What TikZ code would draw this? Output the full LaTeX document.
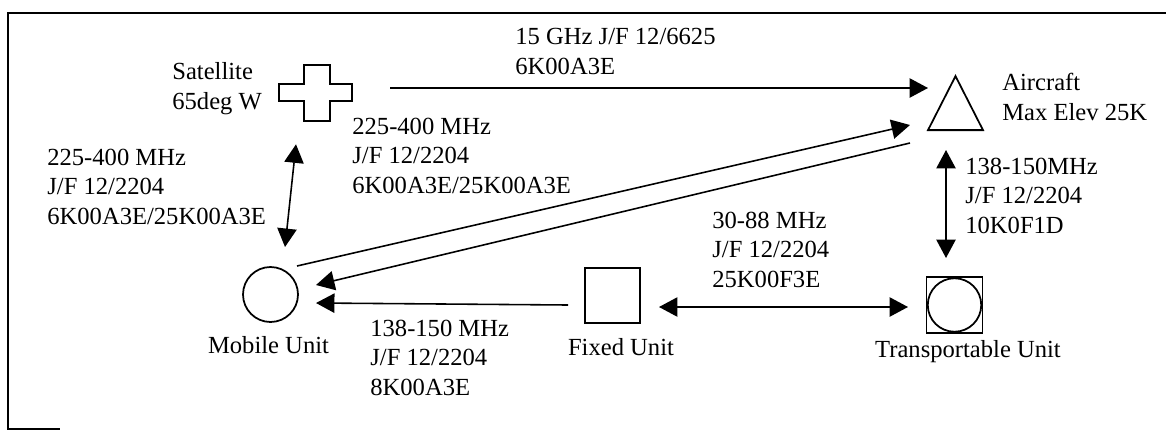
\documentclass[tikz,border=0pt]{standalone}
\usepackage{fontspec}
\setmainfont{Liberation Serif}
\usetikzlibrary{positioning,arrows.meta,calc,shapes.geometric}

\begin{document}
\begin{tikzpicture}[
    x=0.02cm, y=-0.02cm,
    font=\fontsize{14}{16.6}\selectfont,
    unit/.style={draw, line width=1pt, inner sep=0pt, minimum size=1.1cm},
    link/.style={line width=0.9pt},
    arr/.style={link, -{Triangle[length=10.5pt,width=11pt]}},
    both/.style={link, {Triangle[length=10.5pt,width=11pt]}-{Triangle[length=10.5pt,width=11pt]}},
    lbl/.style={anchor=base west, inner sep=0pt, align=left},
    unitname/.style={anchor=base, inner sep=0pt},
  ]
  \useasboundingbox (0,0) rectangle (1166,430);
  % page frame (scanned, open on the right)
  \draw[line width=1pt] (1166,13) -- (8,13) -- (8,429) -- (60,429);

  % stations
  \node[minimum width=1.46cm, minimum height=1.12cm, inner sep=0pt] (sat) at (315.5,93) {};
  \draw[line width=1pt] (279,84) -- (304,84) -- (304,65) -- (330,65) -- (330,84) -- (352,84)
    -- (352,101) -- (330,101) -- (330,121) -- (304,121) -- (304,101) -- (279,101) -- cycle;
  \node[unit, isosceles triangle, shape border rotate=90, isosceles triangle stretches,
        minimum width=1.1cm, minimum height=1.08cm, anchor=south] (air) at (955.5,131) {};
  \node[unit, circle] (mob) at (270.5,294.5) {};
  \node[unit] (fix) at (612.5,295.5) {};
  \node[unit, minimum size=1.12cm] (trn) at (954.5,305) {};
  \node[unit, circle, minimum size=1.07cm] (trnc) at (trn) {};

  % station names (base = last line)
  \node[lbl] (satlab) at (172,109) {Satellite\\65deg W};
  \node[lbl] (airlab) at (1002,120) {Aircraft\\Max Elev 25K};
  \node[unitname] (moblab) at (268.5,353) {Mobile Unit};
  \node[unitname] (fixlab) at (621,355) {Fixed Unit};
  \node[unitname] (trnlab) at (968,357) {Transportable Unit};

  % links
  \draw[arr] ($(sat.east)+(38,-5)$) -- ($(air.south)+(-27.5,-43)$);
  \draw[arr] ($(mob)+(26.5,-28.5)$) -- ($(air.south)+(-45.5,-6)$);
  \draw[arr] ($(air.south)+(-45.5,12)$) -- ($(mob)+(45.5,-9.5)$);
  \draw[both] ($(sat.south)+(-19.5,23)$) -- ($(mob)+(14.5,-47.5)$);
  \draw[arr] ($(fix)+(-44.5,9.5)$) -- ($(mob)+(45.5,8.5)$);
  \draw[both] ($(fix)+(46.5,11.5)$) -- ($(trn)+(-46.5,2)$);
  \draw[both] ($(air.south)+(-9.5,19)$) -- ($(trn)+(-8.5,-47)$);

  % link labels
  \node[lbl] (l15g) at (515,74) {15 GHz J/F 12/6625\\6K00A3E};
  \node[lbl] (luhfa) at (352,193) {225-400 MHz\\J/F 12/2204\\6K00A3E/25K00A3E};
  \node[lbl] (luhfb) at (47,224) {225-400 MHz\\J/F 12/2204\\6K00A3E/25K00A3E};
  \node[lbl] (lvhfa) at (965,233) {138-150MHz\\J/F 12/2204\\10K0F1D};
  \node[lbl] (lvhfb) at (712,287) {30-88 MHz\\J/F 12/2204\\25K00F3E};
  \node[lbl] (lvhfc) at (370,395) {138-150 MHz\\J/F 12/2204\\8K00A3E};
\end{tikzpicture}
\end{document}
